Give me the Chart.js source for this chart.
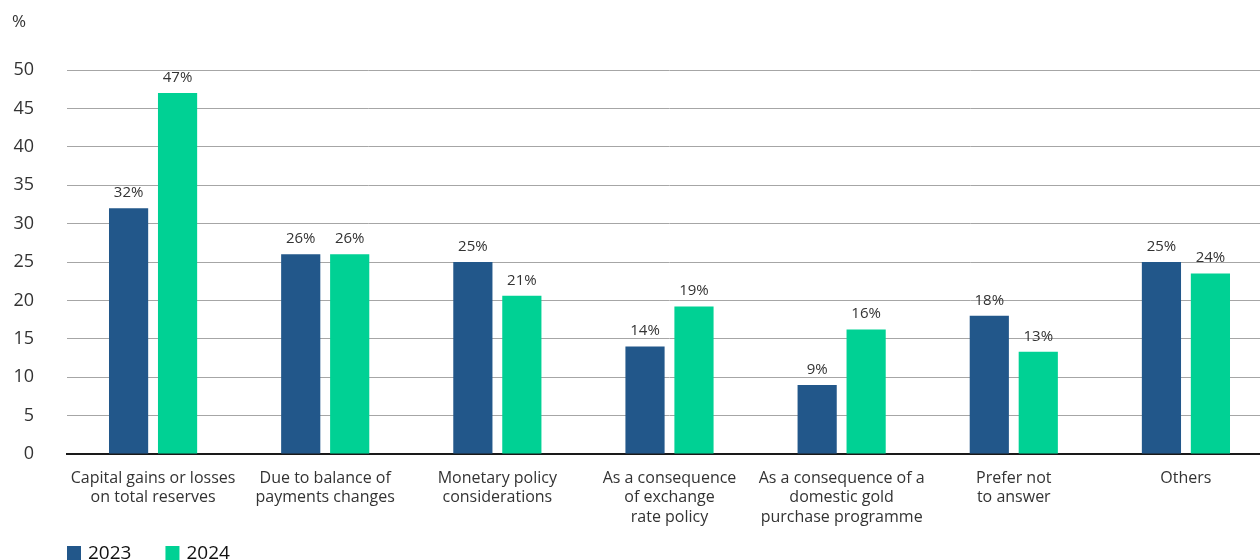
<!DOCTYPE html>
<html>
<head>
<meta charset="utf-8">
<script src="https://cdn.jsdelivr.net/npm/chart.js@4/dist/chart.umd.min.js"></script>
<style>
  html, body { margin: 0; padding: 0; background: #fff; overflow: hidden; }
  #frame { width: 1260px; height: 560px; overflow: hidden; }
  /* plot runs a little past the right edge of the frame */
  #wrap { width: 1272px; height: 560px; position: relative; }
</style>
</head>
<body>
<div id="frame"><div id="wrap"><canvas id="reasonsChart"></canvas></div></div>
<script>
// categories and series
const categories = [
    ['Capital gains or losses', 'on total reserves'],
    ['Due to balance of', 'payments changes'],
    ['Monetary policy', 'considerations'],
    ['As a consequence', 'of exchange', 'rate policy'],
    ['As a consequence of a', 'domestic gold', 'purchase programme'],
    ['Prefer not', 'to answer'],
    'Others'
];
const series2023 = [32, 26, 25, 14, 9, 18, 25];
const series2024 = [47, 26, 20.6, 19.2, 16.2, 13.3, 23.5];
const seriesLabels = ['2023', '2024'];
const yTicks = [0, 5, 10, 15, 20, 25, 30, 35, 40, 45, 50];

const FONT = "'Open Sans', 'Noto Sans', sans-serif";
const TEXT = '#333333';
const BLUE = '#22578a';
const GREEN = '#00d194';

// value labels above each bar
const valueLabels = {
    id: 'valueLabels',
    afterDatasetsDraw(chart) {
        const ctx = chart.ctx;
        ctx.save();
        ctx.font = '15px ' + FONT;
        ctx.fillStyle = TEXT;
        ctx.textAlign = 'center';
        ctx.textBaseline = 'bottom';
        chart.data.datasets.forEach((ds, i) => {
            chart.getDatasetMeta(i).data.forEach((bar, j) => {
                ctx.fillText(Math.round(ds.data[j]) + '%', bar.x, bar.y - 8);
            });
        });
        ctx.restore();
    }
};

// unit caption and bottom-left legend
const extras = {
    id: 'extras',
    afterDraw(chart) {
        const ctx = chart.ctx;
        const area = chart.chartArea;
        ctx.save();
        ctx.fillStyle = TEXT;
        ctx.font = '17px ' + FONT;
        ctx.textAlign = 'left';
        ctx.textBaseline = 'middle';
        ctx.fillText('%', 12, 22);

        let x = area.left;
        const y = 553;
        ctx.font = '19px ' + FONT;
        chart.data.datasets.forEach(ds => {
            ctx.fillStyle = ds.backgroundColor;
            ctx.fillRect(x, y - 7, 14, 14);
            ctx.fillStyle = '#111';
            ctx.fillText(ds.label, x + 21, y + 1);
            x += 21 + ctx.measureText(ds.label).width + 34;
        });
        ctx.restore();
    }
};

new Chart(document.getElementById('reasonsChart').getContext('2d'), {
    type: 'bar',
    data: {
        labels: categories,
        datasets: [
            { label: seriesLabels[0], data: series2023, backgroundColor: BLUE },
            { label: seriesLabels[1], data: series2024, backgroundColor: GREEN }
        ]
    },
    options: {
        responsive: true,
        maintainAspectRatio: false,
        animation: false,
        layout: { padding: { top: 70, right: 0, left: 0, bottom: 0 } },
        datasets: {
            bar: { categoryPercentage: 0.569, barPercentage: 0.8 }
        },
        plugins: {
            legend: { display: false },
            tooltip: { enabled: false }
        },
        scales: {
            x: {
                grid: { display: false },
                border: { display: true, color: '#1a1a1a', width: 2 },
                ticks: {
                    color: TEXT,
                    font: { family: FONT, size: 16, lineHeight: 1.2 },
                    padding: 7,
                    maxRotation: 0,
                    autoSkip: false
                },
                afterFit(scale) { scale.height = 106; }
            },
            y: {
                min: 0,
                max: 50,
                afterBuildTicks(scale) { scale.ticks = yTicks.map(v => ({ value: v })); },
                grid: { color: '#a6a6a6', lineWidth: 1, drawTicks: false },
                border: { display: false },
                ticks: {
                    color: TEXT,
                    font: { family: FONT, size: 18 },
                    padding: 33
                },
                afterFit(scale) { scale.width = 67; }
            }
        }
    },
    plugins: [valueLabels, extras]
});
</script>
</body>
</html>
